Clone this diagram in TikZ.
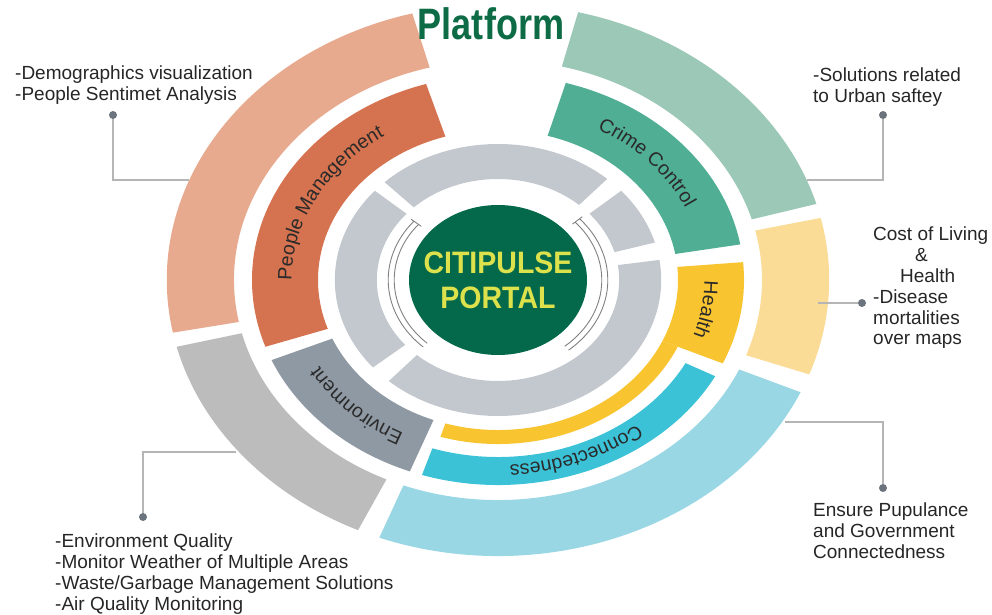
\documentclass[tikz,border=0pt]{standalone}
\usepackage{fontspec}
\setmainfont{Liberation Sans}
\newfontfamily\condfont[FakeStretch=0.82]{Liberation Sans}
\newfontfamily\hubfont[FakeStretch=0.92]{Liberation Sans}
\usetikzlibrary{calc,decorations.text}

\definecolor{portalgreen}{HTML}{03694A}
\definecolor{portaltext}{HTML}{DDE14C}
\definecolor{platgreen}{HTML}{0D6B45}
\definecolor{pmouter}{HTML}{E8AA8F}
\definecolor{pminner}{HTML}{D5724F}
\definecolor{ccouter}{HTML}{9CC8B7}
\definecolor{ccinner}{HTML}{4FAE94}
\definecolor{hlouter}{HTML}{FBDC96}
\definecolor{hlinner}{HTML}{F8C430}
\definecolor{cnouter}{HTML}{9AD7E4}
\definecolor{cninner}{HTML}{3CC2D7}
\definecolor{evouter}{HTML}{BCBCBC}
\definecolor{evinner}{HTML}{8F99A3}
\definecolor{hubgrey}{HTML}{C3C8CE}
\definecolor{linkgrey}{HTML}{B5B5B5}
\definecolor{dotgrey}{HTML}{6B737D}
\definecolor{labelink}{HTML}{2A2A2A}

% ring piece: colour, from angle, to angle, inner r, outer r
\newcommand{\ringpiece}[5]{%
  \fill[#1] ($(c)+(#2:{1.2*#4} and #4)$) arc[start angle=#2, end angle=#3, x radius={1.2*#4}, y radius=#4]
    -- ($(c)+(#3:{1.2*#5} and #5)$) arc[start angle=#3, end angle=#2, x radius={1.2*#5}, y radius=#5] -- cycle;}

% label read clockwise along a ring
\newcommand{\ringlabel}[4]{%
  \path[decorate, decoration={text along path, text align=center,
      text={|\fontsize{19.5}{19.5}\selectfont\color{labelink}|#4}}]
    ($(c)+(#1:{1.2*#3} and #3)$) arc[start angle=#1, end angle=#2, x radius={1.2*#3}, y radius=#3];}

\begin{document}
\begin{tikzpicture}[x=1pt, y=1pt,
    link/.style={linkgrey, line width=1.1pt},
    hubarc/.style={black!50, line width=0.9pt},
    dot/.style={circle, fill=dotgrey, inner sep=0pt, minimum size=8pt},
    note/.style={anchor=north west, inner sep=0pt, align=left,
      font=\fontsize{19}{20.8}\selectfont, text=black!85}]
  \useasboundingbox (0,0) rectangle (992,614);
  \coordinate (c) at (498,334);

  % outer ring
  \ringpiece{pmouter}{105}{191}{220}{276}
  \ringpiece{evouter}{194}{245}{220}{276}
  \ringpiece{cnouter}{249}{336}{220}{276}
  \ringpiece{hlouter}{-20}{13}{220}{276}
  \ringpiece{ccouter}{16}{76}{220}{276}

  % middle ring
  \ringpiece{pminner}{107}{199}{150}{205}
  \ringpiece{ccinner}{10}{74}{150}{205}
  \ringpiece{hlinner}{-24}{5}{150}{205}
  \ringpiece{hlinner}{-107}{-24}{150}{164}
  \ringpiece{cninner}{-108}{-28}{177}{205}
  \ringpiece{evinner}{203}{249}{150}{205}

  % grey hub ring
  \ringpiece{hubgrey}{48}{134}{101}{136}
  \ringpiece{hubgrey}{16}{41}{101}{136}
  \ringpiece{hubgrey}{-132}{8.5}{101}{136}
  \ringpiece{hubgrey}{139}{220}{101}{136}

  \foreach \r in {86.5,91.5} {
    \draw[hubarc] ($(c)+(140:{1.2*\r} and \r)$) arc[start angle=140, end angle=227, x radius={1.2*\r}, y radius=\r];
    \draw[hubarc] ($(c)+(42:{1.2*\r} and \r)$) arc[start angle=42, end angle=-50, x radius={1.2*\r}, y radius=\r];
  }
  \draw[hubarc] ($(c)+(140:{1.2*83.5} and 83.5)$) -- ($(c)+(140:{1.2*94.5} and 94.5)$);
  \draw[hubarc] ($(c)+(42:{1.2*83.5} and 83.5)$) -- ($(c)+(42:{1.2*94.5} and 94.5)$);

  \fill[portalgreen] (c) ellipse[x radius=89, y radius=75];
  \node[align=center, text=portaltext, font=\hubfont\bfseries\fontsize{31}{35}\selectfont]
    (portal) at (c) {CITIPULSE\\PORTAL};
  \node[anchor=base, text=platgreen, font=\condfont\bfseries\fontsize{44}{44}\selectfont]
    (platform) at (491,574) {Platform};

  \ringlabel{199}{107}{172}{People Management}
  \ringlabel{74}{10}{172}{Crime Control}
  \ringlabel{5}{-24}{172}{Health}
  \ringlabel{249}{203}{172}{Environment}
  \ringlabel{-28}{-108}{185}{Connectedness}

  % call-outs
  \coordinate (pmEdge) at (189,434);
  \coordinate (ccEdge) at (807,434);
  \coordinate (hlEdge) at (818,311);
  \coordinate (cnEdge) at (785,192);
  \coordinate (evEdge) at (236,162);
  \node[dot] (pmDot) at (113,499) {};
  \node[dot] (ccDot) at (883,499) {};
  \node[dot] (hlDot) at (862,311) {};
  \node[dot] (cnDot) at (883,126) {};
  \node[dot] (evDot) at (143,97) {};
  \draw[link] (pmEdge) -| (pmDot);
  \draw[link] (ccEdge) -| (ccDot);
  \draw[link] (hlEdge) -- (hlDot);
  \draw[link] (cnEdge) -| (cnDot);
  \draw[link] (evEdge) -| (evDot);

  \node[note] (pmNote) at (15,548) {-Demographics visualization\\-People Sentimet Analysis};
  \node[note] (ccNote) at (813,546) {-Solutions related\\to Urban saftey};
  \node[note] (hlNote) at (873,387) {Cost of Living\\\hspace*{42pt}\&\\\hspace*{27pt}Health\\-Disease\\mortalities\\over maps};
  \node[note] (cnNote) at (813,111) {Ensure Pupulance\\and Government\\Connectedness};
  \node[note] (evNote) at (55,80) {-Environment Quality\\-Monitor Weather of Multiple Areas\\-Waste/Garbage Management Solutions\\-Air Quality Monitoring};
\end{tikzpicture}
\end{document}
